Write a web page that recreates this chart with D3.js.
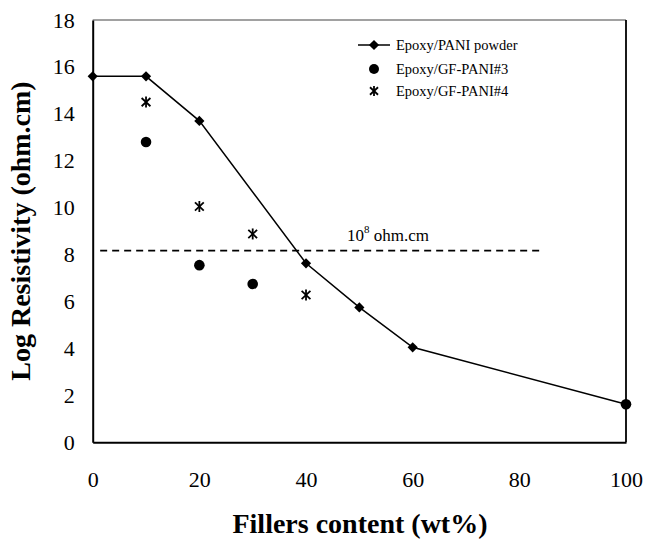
<!DOCTYPE html>
<html><head><meta charset="utf-8">
<script src="https://cdn.jsdelivr.net/npm/d3@7"></script>
<style>body{margin:0;background:#fff}svg{display:block}text{font-family:"Liberation Serif","Times New Roman",serif}</style>
</head><body>
<svg id="c" width="647" height="543"></svg>
<script>
const paniX = [0, 10, 20, 40, 50, 60, 100];
const paniY = [15.6, 15.6, 13.7, 7.63, 5.75, 4.05, 1.62];
const gf3X = [10, 20, 30, 100];
const gf3Y = [12.8, 7.55, 6.75, 1.62];
const gf4X = [10, 20, 30, 40];
const gf4Y = [14.5, 10.05, 8.88, 6.28];
const xTicks = [0, 20, 40, 60, 80, 100];
const yTicks = [0, 2, 4, 6, 8, 10, 12, 14, 16, 18];
const threshold = 8.17;
const thresholdRange = [1.4, 84.3];
const legendLabels = ["Epoxy/PANI powder", "Epoxy/GF-PANI#3", "Epoxy/GF-PANI#4"];

const svg = d3.select("#c");
const L = 92.7, R = 626, T = 20, B = 442.3;
const x = d3.scaleLinear().domain([0, 100]).range([L, R]);
const y = d3.scaleLinear().domain([0, 18]).range([B, T]);

// frame
svg.append("line").attr("x1", L).attr("x2", R).attr("y1", T).attr("y2", T).attr("stroke", "#444").attr("stroke-width", 1.2);
svg.append("line").attr("x1", R).attr("x2", R).attr("y1", T).attr("y2", B).attr("stroke", "#000").attr("stroke-width", 1.8);

const xAxis = svg.append("g").attr("transform", `translate(0,${B})`)
  .call(d3.axisBottom(x).tickValues(xTicks).tickSize(0).tickPadding(29).tickFormat(d3.format("d")));
xAxis.select(".domain").attr("stroke", "#000").attr("stroke-width", 2);
xAxis.selectAll("text").attr("font-size", 22).attr("fill", "#000").attr("font-family", "Liberation Serif");

const yAxis = svg.append("g").attr("transform", `translate(${L},0)`)
  .call(d3.axisLeft(y).tickValues(yTicks).tickSize(0).tickPadding(18).tickFormat(d3.format("d")));
yAxis.select(".domain").attr("stroke", "#000").attr("stroke-width", 2);
yAxis.selectAll("text").attr("font-size", 22).attr("fill", "#000").attr("font-family", "Liberation Serif");

// threshold
svg.append("line").attr("x1", x(thresholdRange[0])).attr("x2", x(thresholdRange[1]))
  .attr("y1", y(threshold)).attr("y2", y(threshold))
  .attr("stroke", "#000").attr("stroke-width", 1.6).attr("stroke-dasharray", "7,5");
const tl = svg.append("text").attr("x", 347).attr("y", y(threshold) - 10).attr("font-size", 17).attr("fill", "#000");
tl.append("tspan").text("10");
tl.append("tspan").attr("dy", -8).attr("font-size", 11).text("8");
tl.append("tspan").attr("dy", 8).text(" ohm.cm");

// PANI line
const pts = paniX.map((d, i) => [d, paniY[i]]);
svg.append("path").datum(pts).attr("fill", "none").attr("stroke", "#000").attr("stroke-width", 1.5)
  .attr("d", d3.line().x(d => x(d[0])).y(d => y(d[1])));
const diamond = d3.symbol().type(d3.symbolSquare).size(52);
svg.selectAll(".dm").data(pts).join("path").attr("class", "dm")
  .attr("transform", d => `translate(${x(d[0])},${y(d[1])}) rotate(45)`).attr("d", diamond).attr("fill", "#000");

// GF3 circles
svg.selectAll(".c3").data(gf3X.map((d, i) => [d, gf3Y[i]])).join("circle").attr("class", "c3")
  .attr("cx", d => x(d[0])).attr("cy", d => y(d[1])).attr("r", 5.3).attr("fill", "#000");

// GF4 asterisks
function star(g, cx, cy, s) {
  g.append("line").attr("x1", cx).attr("x2", cx).attr("y1", cy - s).attr("y2", cy + s).attr("stroke", "#000").attr("stroke-width", 1.8);
  g.append("line").attr("x1", cx - s * 0.8).attr("x2", cx + s * 0.8).attr("y1", cy - s * 0.75).attr("y2", cy + s * 0.75).attr("stroke", "#000").attr("stroke-width", 1.8);
  g.append("line").attr("x1", cx - s * 0.8).attr("x2", cx + s * 0.8).attr("y1", cy + s * 0.75).attr("y2", cy - s * 0.75).attr("stroke", "#000").attr("stroke-width", 1.8);
}
const sg = svg.append("g");
gf4X.forEach((d, i) => star(sg, x(d), y(gf4Y[i]), 5.5));

// legend
const lg = svg.append("g");
lg.append("line").attr("x1", 358).attr("x2", 390).attr("y1", 45).attr("y2", 45).attr("stroke", "#000").attr("stroke-width", 1.5);
lg.append("path").attr("transform", "translate(374,45) rotate(45)").attr("d", diamond).attr("fill", "#000");
lg.append("circle").attr("cx", 374).attr("cy", 69).attr("r", 5).attr("fill", "#000");
star(lg, 374, 91, 5);
legendLabels.forEach((t, i) => {
  lg.append("text").attr("x", 396).attr("y", [45, 69, 91][i] + 5).attr("font-size", 14.5).attr("fill", "#000").text(t);
});

// axis titles
svg.append("text").attr("x", 360).attr("y", 533).attr("text-anchor", "middle").attr("font-size", 28)
  .attr("font-weight", "bold").attr("fill", "#000").text("Fillers content (wt%)");
svg.append("text").attr("transform", "translate(30,231) rotate(-90)").attr("text-anchor", "middle").attr("font-size", 28)
  .attr("font-weight", "bold").attr("fill", "#000").text("Log Resistivity (ohm.cm)");
</script>
</body></html>
